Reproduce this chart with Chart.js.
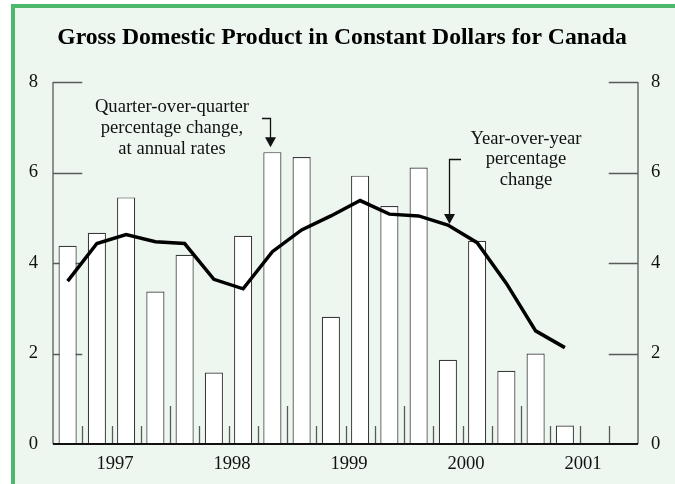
<!DOCTYPE html>
<html>
<head>
<meta charset="utf-8">
<script src="https://cdn.jsdelivr.net/npm/chart.js@4.4.1/dist/chart.umd.min.js"></script>
<style>
  html, body { margin: 0; padding: 0; background: #ffffff; }
  #gdpChart { display: block; }
</style>
</head>
<body>
<canvas id="gdpChart" width="675" height="484"></canvas>
<script>
// ============================================
// GDP in constant dollars, Canada — quarterly bars + yoy line
// ============================================

const quarters = ['1996Q3', '1996Q4', '1997Q1', '1997Q2', '1997Q3', '1997Q4',
    '1998Q1', '1998Q2', '1998Q3', '1998Q4', '1999Q1', '1999Q2', '1999Q3', '1999Q4',
    '2000Q1', '2000Q2', '2000Q3', '2000Q4'];
const qoqChange = [4.38, 4.67, 5.45, 3.37, 4.18, 1.58, 4.60, 6.45, 6.34, 2.81,
    5.93, 5.26, 6.11, 1.86, 4.49, 1.62, 2.00, 0.41];
const yoyChange = [3.60, 4.43, 4.63, 4.47, 4.43, 3.64, 3.43, 4.25, 4.73, 5.04,
    5.38, 5.08, 5.04, 4.84, 4.45, 3.55, 2.50, 2.13];
const yearLabels = ['1997', '1998', '1999', '2000', '2001'];
const yearStarts = [2, 6, 10, 14, 18];   // slot boundary where each year begins
const yTicks = [0, 2, 4, 6, 8];
const SLOTS = 20;                         // 18 quarters + 2 empty

const SERIF = "'Liberation Serif', 'DejaVu Serif', serif";
const AXIS_GREY = '#5a5a5a';

const slotData = values => values.map((v, i) => ({ x: i + 0.5, y: v }));

// panel background + green frame + title
const panelPlugin = {
    id: 'panel',
    beforeDraw(chart) {
        const { ctx, width, height } = chart;
        ctx.save();
        ctx.fillStyle = '#ffffff';
        ctx.fillRect(0, 0, width, height);
        ctx.fillStyle = '#edf7f0';
        ctx.fillRect(13, 6, width, height);
        ctx.strokeStyle = '#4cb96a';
        ctx.lineWidth = 4;
        ctx.strokeRect(13, 6, width - 11, height + 20);
        ctx.fillStyle = '#000';
        ctx.font = 'bold 23.7px ' + SERIF;
        ctx.textAlign = 'center';
        ctx.textBaseline = 'alphabetic';
        ctx.fillText('Gross Domestic Product in Constant Dollars for Canada', 342, 44);
        ctx.restore();
    }
};

// inward ticks, side axes (drawn under the bars)
const frameTicksPlugin = {
    id: 'frameTicks',
    beforeDatasetsDraw(chart) {
        const { ctx, chartArea: a, scales: { x, y } } = chart;
        ctx.save();
        ctx.strokeStyle = AXIS_GREY;
        ctx.lineWidth = 1.3;
        ctx.beginPath();
        ctx.moveTo(a.left, a.top); ctx.lineTo(a.left, a.bottom);
        ctx.moveTo(a.right, a.top); ctx.lineTo(a.right, a.bottom);
        const tickLen = x.getPixelForValue(1) - x.getPixelForValue(0);
        yTicks.slice(1).forEach(v => {
            const py = Math.round(y.getPixelForValue(v)) + 0.5;
            ctx.moveTo(a.left, py); ctx.lineTo(a.left + tickLen, py);
            ctx.moveTo(a.right, py); ctx.lineTo(a.right - tickLen, py);
        });
        for (let i = 1; i < SLOTS; i++) {
            const px = Math.round(x.getPixelForValue(i)) + 0.5;
            const len = (i % 4 === 0) ? 38 : 18;
            ctx.moveTo(px, a.bottom); ctx.lineTo(px, a.bottom - len);
        }
        ctx.stroke();
        ctx.restore();
    },
    afterDatasetsDraw(chart) {
        const { ctx, chartArea: a } = chart;
        ctx.save();
        ctx.strokeStyle = '#111';
        ctx.lineWidth = 2;
        ctx.beginPath();
        ctx.moveTo(a.left, a.bottom);
        ctx.lineTo(a.right, a.bottom);
        ctx.stroke();
        ctx.restore();
    }
};

function drawArrow(ctx, fromX, fromY, tipX, tipY) {
    ctx.beginPath();
    ctx.moveTo(fromX, fromY);
    ctx.lineTo(tipX, fromY);
    ctx.lineTo(tipX, tipY - 9);
    ctx.stroke();
    ctx.beginPath();
    ctx.moveTo(tipX - 5.5, tipY - 10);
    ctx.lineTo(tipX + 5.5, tipY - 10);
    ctx.lineTo(tipX, tipY);
    ctx.closePath();
    ctx.fill();
}

// callout texts with arrows
const calloutPlugin = {
    id: 'callouts',
    afterDatasetsDraw(chart) {
        const { ctx, scales: { x, y } } = chart;
        ctx.save();
        ctx.fillStyle = '#111';
        ctx.strokeStyle = '#111';
        ctx.lineWidth = 1.3;
        ctx.font = '18.6px ' + SERIF;
        ctx.textAlign = 'center';
        ctx.textBaseline = 'middle';

        ['Quarter-over-quarter', 'percentage change,', 'at annual rates']
            .forEach((t, i) => ctx.fillText(t, 172, 107 + i * 21));
        const bx = Math.round(x.getPixelForValue(7.5)) - 1.5;
        drawArrow(ctx, 262, 118.5, bx, y.getPixelForValue(qoqChange[7]) - 5);

        ['Year-over-year', 'percentage', 'change']
            .forEach((t, i) => ctx.fillText(t, 526, 139 + i * 20.5));
        const lx = Math.round(x.getPixelForValue(13.5)) + 1.5;
        drawArrow(ctx, 461, 159.5, lx, y.getPixelForValue(yoyChange[13]) - 1);
        ctx.restore();
    }
};

const tickFont = { family: SERIF, size: 18.6 };

new Chart(document.getElementById('gdpChart'), {
    data: {
        datasets: [
            {
                type: 'line',
                label: 'Year-over-year percentage change',
                data: slotData(yoyChange),
                borderColor: '#000',
                borderWidth: 3.5,
                pointRadius: 0,
                tension: 0,
                order: 0,
            },
            {
                type: 'bar',
                label: 'Quarter-over-quarter percentage change, at annual rates',
                data: slotData(qoqChange),
                backgroundColor: '#ffffff',
                borderColor: '#3a3a3a',
                borderWidth: 1.2,
                categoryPercentage: 1,
                barPercentage: 0.62,
                order: 1,
            }
        ]
    },
    options: {
        responsive: false,
        animation: false,
        devicePixelRatio: 1,
        layout: { padding: { top: 82, left: 0, right: 0, bottom: 0 } },
        plugins: {
            legend: { display: false },
            tooltip: { enabled: false },
        },
        scales: {
            x: {
                type: 'linear',
                offset: false,
                min: 0, max: SLOTS,
                afterBuildTicks: s => { s.ticks = yearStarts.map(v => ({ value: v + 0.12 })); },
                afterFit: s => { s.height = 40; },
                ticks: {
                    callback: (v, i) => yearLabels[i],
                    font: tickFont, color: '#111', padding: 9, maxRotation: 0, autoSkip: false,
                },
                grid: { display: false, drawTicks: false },
                border: { display: false },
            },
            y: {
                position: 'left',
                min: 0, max: 8,
                afterBuildTicks: s => { s.ticks = yTicks.map(v => ({ value: v })); },
                afterFit: s => { s.width = 53; },
                ticks: { font: tickFont, color: '#111', padding: 15 },
                grid: { display: false, drawTicks: false },
                border: { display: false },
            },
            y2: {
                position: 'right',
                display: true,
                min: 0, max: 8,
                afterBuildTicks: s => { s.ticks = yTicks.map(v => ({ value: v })); },
                afterFit: s => { s.width = 37; },
                ticks: { font: tickFont, color: '#111', padding: 13 },
                grid: { display: false, drawTicks: false },
                border: { display: false },
            }
        }
    },
    plugins: [panelPlugin, frameTicksPlugin, calloutPlugin]
});
</script>
</body>
</html>
